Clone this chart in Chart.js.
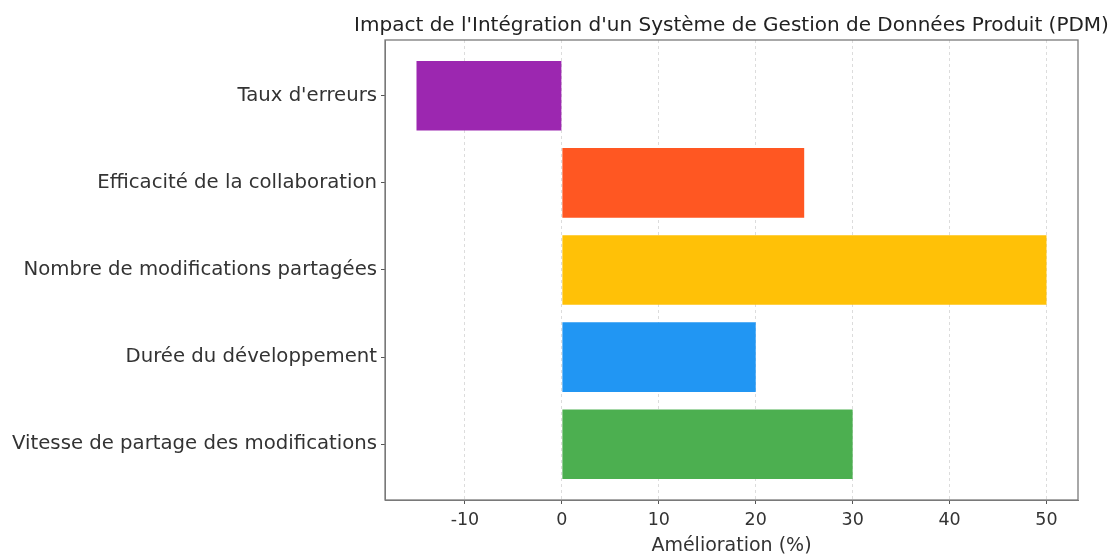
<!DOCTYPE html>
<html><head><meta charset="utf-8">
<script src="https://cdn.jsdelivr.net/npm/chart.js@4.4.1/dist/chart.umd.min.js"></script>
<style>html,body{margin:0;padding:0;background:#fff}#wrap{width:1114px;height:557px}</style>
</head><body><div id="wrap"><canvas id="c" width="1114" height="557"></canvas></div>
<script>
// bottom-to-top order (as in the source barh)
const categories = ["Vitesse de partage des modifications","Durée du développement","Nombre de modifications partagées","Efficacité de la collaboration","Taux d'erreurs"];
const values = [30, 20, 50, 25, -15];
const colors = ["#4CAF50","#2196F3","#FFC107","#FF5722","#9C27B0"];
const xTicks = [-10, 0, 10, 20, 30, 40, 50];
const titleText = "Impact de l'Intégration d'un Système de Gestion de Données Produit (PDM)";
const xTitle = "Amélioration (%)";

const FONT = "'DejaVu Sans', sans-serif";
const frame = {
  id: 'frame',
  afterDraw(chart) {
    const a = chart.chartArea, ctx = chart.ctx;
    ctx.save(); ctx.strokeStyle = '#7a7a7a'; ctx.lineWidth = 1.3;
    ctx.strokeRect(a.left, a.top, a.right - a.left, a.bottom - a.top);
    ctx.fillStyle = '#222'; ctx.font = "20px " + FONT;
    ctx.textAlign = 'center'; ctx.textBaseline = 'middle';
    ctx.fillText(titleText, (a.left + a.right) / 2, 26);
    ctx.restore();
  }
};
new Chart(document.getElementById('c'), {
  type: 'bar',
  data: {
    datasets: [{
      data: values.map((v, i) => ({x: v, y: i})),
      backgroundColor: colors,
      borderWidth: 0,
      barPercentage: 0.8,
      categoryPercentage: 1.0
    }]
  },
  options: {
    indexAxis: 'y',
    responsive: false,
    animation: false,
    layout: {padding: {left: 0, right: 36, top: 40, bottom: 0}},
    plugins: {
      legend: {display: false},
      tooltip: {enabled: false},
      title: {display: false}
    },
    scales: {
      x: {
        type: 'linear', min: -18.25, max: 53.25,
        afterBuildTicks: s => { s.ticks = xTicks.map(v => ({value: v})); },
        afterFit: s => { s.height = 57; },
        grid: {color: '#dcdcdc', lineWidth: 1, tickColor: '#555', tickLength: 4, drawTicks: true},
        border: {display: true, color: '#7a7a7a', dash: [3, 3]},
        ticks: {color: '#333', font: {family: FONT, size: 17.5}, padding: 6, maxRotation: 0},
        title: {display: true, text: xTitle, color: '#333', font: {family: FONT, size: 19}, padding: {top: 0, bottom: 0}}
      },
      y: {
        type: 'linear', min: -0.64, max: 4.64, offset: false,
        afterBuildTicks: s => { s.ticks = categories.map((c, i) => ({value: i})); },
        afterFit: s => { s.width = 385; },
        grid: {drawOnChartArea: false, offset: false, tickColor: '#555', tickLength: 4},
        border: {display: true, color: '#7a7a7a'},
        ticks: {color: '#333', font: {family: FONT, size: 19.7}, padding: 4, callback: v => categories[v]}
      }
    }
  },
  plugins: [frame]
});
</script></body></html>
